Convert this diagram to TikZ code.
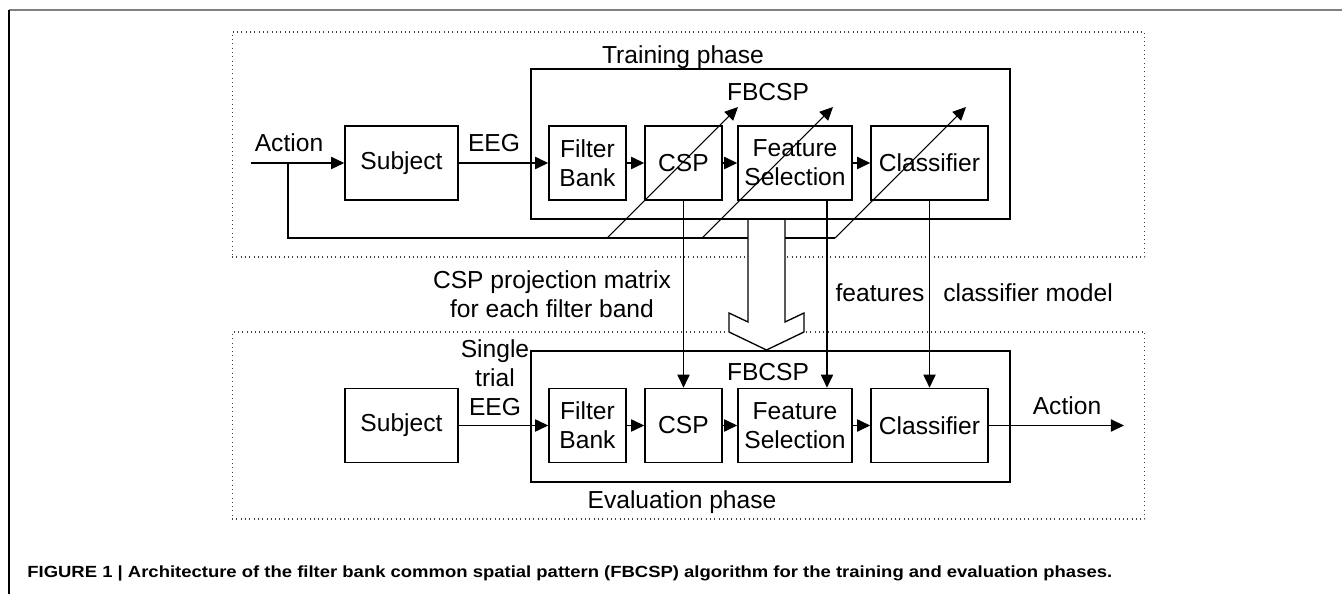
\documentclass[tikz,border=0pt]{standalone}
\usepackage{fontspec}
\setmainfont{Liberation Sans}
\usepackage{graphicx}
\usetikzlibrary{arrows.meta,positioning}

\begin{document}
\begin{tikzpicture}[x=0.02cm, y=-0.02cm,
            font=\fontsize{14}{16.5}\selectfont,
            block/.style={draw, rectangle, line width=0.9pt, minimum height=1.48cm, inner sep=0pt, align=center},
            phase/.style={draw, rectangle, line width=0.9pt, inner sep=0pt},
            area/.style={draw=black!75, rectangle, line width=0.6pt, dash pattern=on 0.5pt off 1.95pt, inner sep=0pt},
            lbl/.style={align=center, inner sep=0pt},
            arr/.style={line width=0.75pt, -{Triangle[length=7.5pt,width=7pt]}},
            link/.style={line width=0.75pt}
            ]
            \useasboundingbox (0,0) rectangle (1342,594);

            % Page frame
            \draw[black!50, line width=1.2pt] (9,10) -- (1342,10);
            \draw[line width=0.8pt] (9,10) -- (9,594);

            % Dotted areas
            \node[area, minimum width=18.26cm, minimum height=4.5cm] (trainarea) at (688.5,144.5) {};
            \node[area, minimum width=18.26cm, minimum height=3.74cm] (evalarea) at (688.5,425.5) {};

            % Coordinates of the feedback path
            \coordinate (start) at (251,163);
            \coordinate (split) at (288,163);
            \coordinate (corner) at (288,238);
            \coordinate (d1s) at (607,238);
            \coordinate (d1e) at (738,107);
            \coordinate (d2s) at (702,238);
            \coordinate (d2e) at (833,107);
            \coordinate (d3s) at (835,238);
            \coordinate (d3e) at (966,107);
            \coordinate (outend) at (1124,425.5);

            \draw[link] (split) -- (corner) -- (d3s);

            % Hollow arrow between the phases
            \draw[link, fill=white] (748,219) -- (748,322) -- (729,313) -- (729,332) -- (766.5,350)
                -- (804,332) -- (804,313) -- (785,322) -- (785,219);

            % Phase boxes
            \node[phase, minimum width=9.58cm, minimum height=3cm] (trainbox) at (770.5,144) {};
            \node[phase, minimum width=9.58cm, minimum height=2.62cm] (evalbox) at (770.5,416.5) {};

            % Nodes with manual coordinates
            \node[block, minimum width=2.26cm] (subj) at (401.5,163) {Subject};
            \node[block, minimum width=1.54cm] (fb) at (587.5,163) {Filter\\Bank};
            \node[block, minimum width=1.54cm] (csp) at (683.5,163) {CSP};
            \node[block, minimum width=2.28cm] (fs) at (795,163) {Feature\\Selection};
            \node[block, minimum width=2.34cm] (cls) at (929.5,163) {Classifier};

            \node[block, minimum width=2.26cm] (esubj) at (401.5,425.5) {Subject};
            \node[block, minimum width=1.54cm] (efb) at (587.5,425.5) {Filter\\Bank};
            \node[block, minimum width=1.54cm] (ecsp) at (683.5,425.5) {CSP};
            \node[block, minimum width=2.28cm] (efs) at (795,425.5) {Feature\\Selection};
            \node[block, minimum width=2.34cm] (ecls) at (929.5,425.5) {Classifier};

            % Labels
            \node[lbl] (trainlbl) at (683,57) {Training phase};
            \node[lbl] (fbcsp) at (768,92) {FBCSP};
            \node[lbl] (actin) at (289,143) {Action};
            \node[lbl] (eeg) at (494,143) {EEG};
            \node[lbl] (csplbl) at (552,294) {CSP projection matrix\\for each filter band};
            \node[lbl] (featlbl) at (880,293) {features};
            \node[lbl] (clslbl) at (1028,293) {classifier model};
            \node[lbl] (efbcsp) at (768,372) {FBCSP};
            \node[lbl] (single) at (495,378) {Single\\trial\\EEG};
            \node[lbl] (actout) at (1067,406) {Action};
            \node[lbl] (evallbl) at (682,502) {Evaluation phase};

            % Arrows
            \draw[arr] (start) -- (subj.west);
            \draw[arr] (subj.east) -- (fb.west);
            \draw[arr] (fb.east) -- (csp.west);
            \draw[arr] (csp.east) -- (fs.west);
            \draw[arr] (fs.east) -- (cls.west);
            \draw[arr, line width=0.6pt] (d1s) -- (d1e);
            \draw[arr, line width=0.6pt] (d2s) -- (d2e);
            \draw[arr, line width=0.6pt] (d3s) -- (d3e);
            \draw[arr] (csp.south) -- (ecsp.north);
            \draw[arr] ([xshift=0.64cm]fs.south) -- ([xshift=0.64cm]efs.north);
            \draw[arr] (cls.south) -- (ecls.north);
            \draw[arr] (esubj.east) -- (efb.west);
            \draw[arr] (efb.east) -- (ecsp.west);
            \draw[arr] (ecsp.east) -- (efs.west);
            \draw[arr] (efs.east) -- (ecls.west);
            \draw[arr] (ecls.east) -- (outend);

            % Caption
            \node[anchor=base west, inner sep=0pt, font=\fontsize{9.2}{10}\selectfont\bfseries] (caption) at (27,577)
                {\resizebox{21.7cm}{\height}{FIGURE 1 | Architecture of the filter bank common spatial pattern (FBCSP) algorithm for the training and evaluation phases.}};
        \end{tikzpicture}
\end{document}
